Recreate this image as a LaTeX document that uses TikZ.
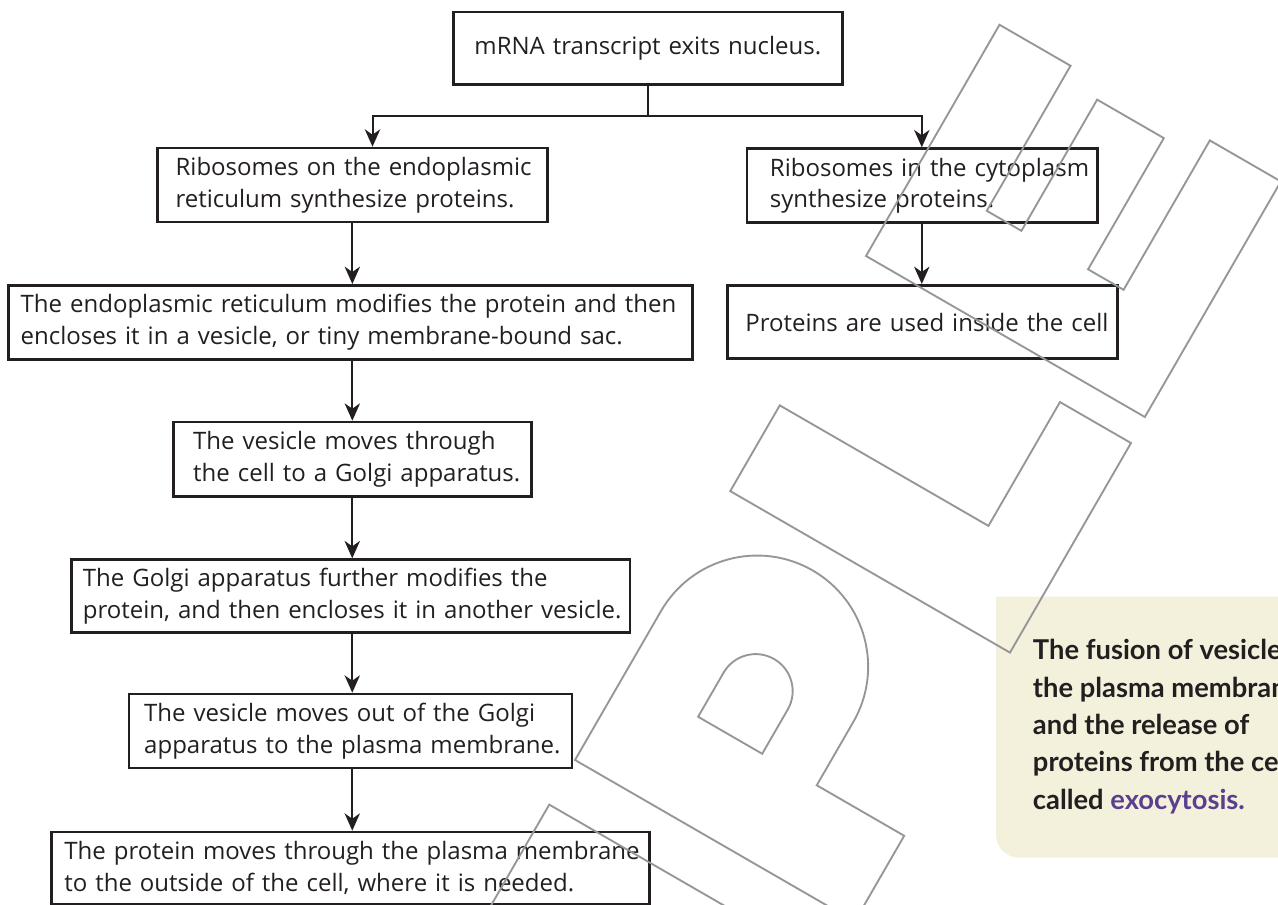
\documentclass[tikz,border=0pt]{standalone}
\usepackage{fontspec}
\setmainfont{Open Sans}
\newfontfamily\calloutfont{Lato}
\usetikzlibrary{arrows.meta}
\definecolor{ink}{HTML}{231F20}
\definecolor{wm}{HTML}{969696}
\definecolor{cream}{HTML}{F3F1DC}
\definecolor{purp}{HTML}{5B3F8F}
\begin{document}
\begin{tikzpicture}[x=0.75pt,y=-0.75pt,
  box/.style={draw=ink, line width=2pt, text=ink, align=left, inner ysep=0pt,
    font=\fontsize{18}{23.7}\selectfont, anchor=north west},
  conn/.style={draw=ink, line width=1.5pt},
  arr/.style={conn, -{Stealth[length=13pt,width=11.5pt,inset=4pt]}},
  wmline/.style={draw=wm, line width=1.4pt, line join=miter}]
\useasboundingbox (0,0) rectangle (1278,904);
\begin{scope}
\clip (0,0) rectangle (1278,904);
% callout background
\fill[cream] (1290,596.7) -- (996,596.7) -- (996,834.7)
  arc[start angle=180,end angle=90,radius=23] -- (1290,857.7) -- cycle;
\node[anchor=base west, inner sep=0pt, align=left, text=ink,
  font=\calloutfont\bfseries\fontsize{20.5}{28}\selectfont] (note) at (1032.7,809.3)
  {The fusion of vesicles\\the plasma membrane\\and the release of\\proteins from the cell\\called \textcolor{purp}{exocytosis.}};
% boxes
\node[box, align=center, text width=264.75pt, inner xsep=13.5pt, minimum height=54.45pt] (top) at (452,10.7)
  {mRNA transcript exits nucleus.};
\node[box, text width=265.1pt, inner xsep=13.7pt, minimum height=55.5pt] (l1) at (156,146.7)
  {\mbox{Ribosomes on the endoplasmic}\\\mbox{reticulum synthesize proteins.}};
\node[box, text width=228.3pt, inner xsep=17.25pt, minimum height=55.5pt] (r1) at (745.6,147.3)
  {\mbox{Ribosomes in the cytoplasm}\\\mbox{synthesize proteins.}};
\node[box, text width=494.8pt, inner xsep=9pt, minimum height=55.7pt] (er) at (7.3,284)
  {\mbox{The endoplasmic reticulum modifies the protein and then}\\\mbox{encloses it in a vesicle, or tiny membrane-bound sac.}};
\node[box, text width=265.5pt, inner xsep=13.5pt, minimum height=55pt] (pr) at (726,284)
  {\mbox{Proteins are used inside the cell}};
\node[box, text width=238.6pt, inner xsep=14.9pt, minimum height=55.7pt] (ves) at (172,420.7)
  {\mbox{The vesicle moves through}\\\mbox{the cell to a Golgi apparatus.}};
\node[box, text width=401.7pt, inner xsep=8.55pt, minimum height=54.5pt] (golgi) at (70.2,558.3)
  {\mbox{The Golgi apparatus further modifies the}\\\mbox{protein, and then encloses it in another vesicle.}};
\node[box, text width=309.5pt, inner xsep=11.3pt, minimum height=55.5pt] (out) at (127.8,692.7)
  {\mbox{The vesicle moves out of the Golgi}\\\mbox{apparatus to the plasma membrane.}};
\node[box, text width=429.4pt, inner xsep=9.6pt, minimum height=54.2pt] (prot) at (50.2,830.7)
  {\mbox{The protein moves through the plasma membrane}\\\mbox{to the outside of the cell, where it is needed.}};
% connectors
\coordinate (bl) at (372.5,115.7);
\coordinate (br) at (921.8,115.7);
\draw[conn] (top.south) -- (top.south |- bl);
\draw[arr] (top.south |- bl) -- (bl) -- (bl |- l1.north);
\draw[arr] (top.south |- bl) -- (br) -- (br |- r1.north);
\draw[arr] (r1.south -| br) -- (pr.north -| br);
\draw[arr] (l1.south) -- (l1.south |- er.north);
\draw[arr] (l1.south |- er.south) -- (l1.south |- ves.north);
\draw[arr] (ves.south) -- (ves.south |- golgi.north);
\draw[arr] (ves.south |- golgi.south) -- (ves.south |- out.north);
\draw[arr] (ves.south |- out.south) -- (ves.south |- prot.north);
% watermark outlines
\begin{scope}[shift={(575,760)}, x={(0.375pt,0.6495pt)}, y={(0.6495pt,-0.375pt)}]
  % M (corner)
  \draw[wmline] (-231.5,0) -- (-51.5,0) -- (-51.5,330);
  % P
  \draw[wmline] (0,0) -- (172,0) arc[start angle=-90,end angle=90,radius=111]
    -- (99,222) -- (99,323) -- (0,323) -- cycle;
  \draw[wmline] (99,85) -- (150,85) arc[start angle=-90,end angle=90,radius=37]
    -- (99,159) -- cycle;
  % L
  \draw[wmline, shift={(310.5,0)}] (0,0) -- (99,0) -- (99,241) -- (242,241) -- (242,323) -- (0,323) -- cycle;
  % E
  \draw[wmline, shift={(582,0)}] (0,0) -- (267,0) -- (267,82) -- (99.5,82) -- (99.5,122) -- (251,122)
    -- (251,199) -- (99.5,199) -- (99.5,240) -- (272,240) -- (272,322) -- (0,322) -- cycle;
\end{scope}
\end{scope}
\end{tikzpicture}
\end{document}
